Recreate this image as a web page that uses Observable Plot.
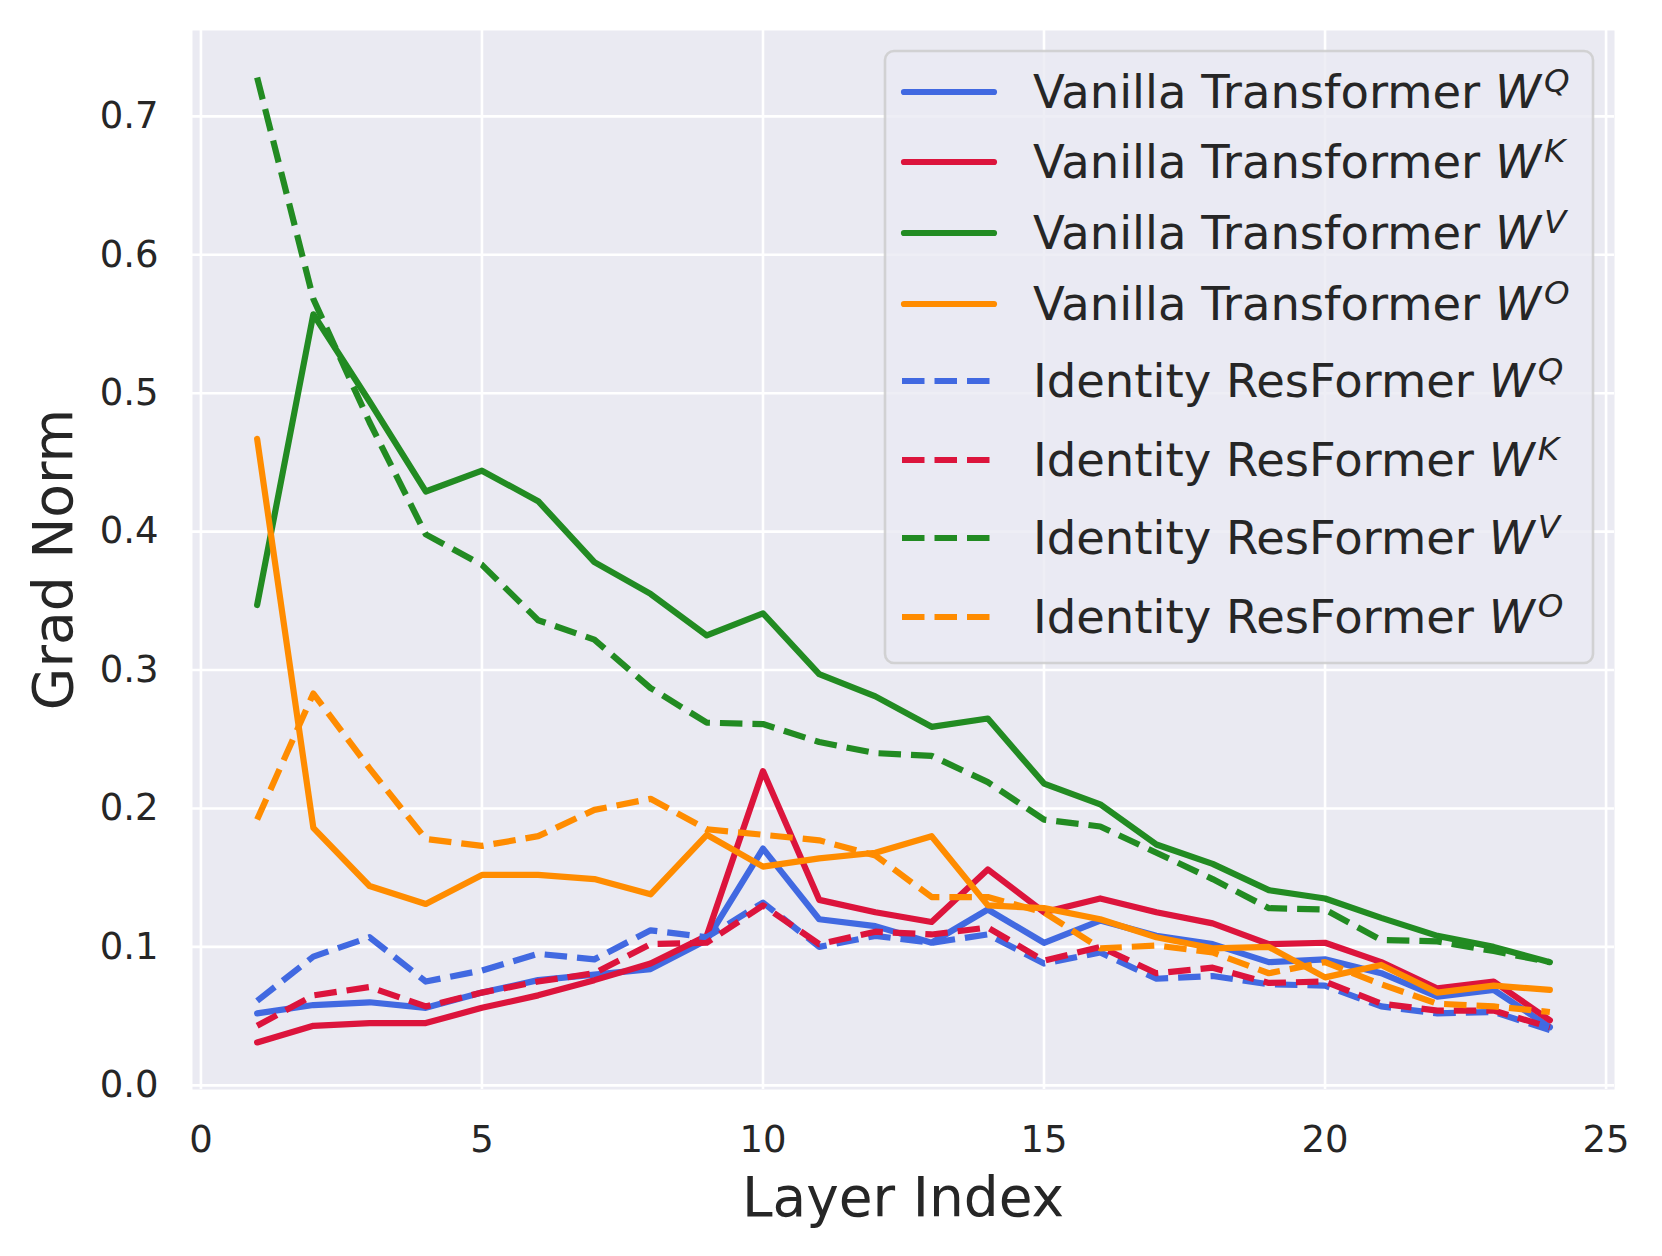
<!DOCTYPE html>
<html>
<head>
<meta charset="utf-8">
<script src="https://cdn.jsdelivr.net/npm/d3@7"></script>
<script src="https://cdn.jsdelivr.net/npm/@observablehq/plot@0.6"></script>
<style>
  html, body { margin: 0; padding: 0; background: #ffffff; }
  #chart svg { display: block; }
</style>
</head>
<body>
<div id="chart"></div>
<script>
// ---------- data ----------
const layers = [1, 2, 3, 4, 5, 6, 7, 8, 9, 10, 11, 12, 13, 14, 15, 16, 17, 18, 19, 20, 21, 22, 23, 24];

const vanillaQ = [0.052, 0.058, 0.060, 0.056, 0.067, 0.076, 0.080, 0.084, 0.105, 0.171, 0.120, 0.115, 0.103, 0.127, 0.103, 0.119, 0.108, 0.102, 0.089, 0.091, 0.081, 0.064, 0.069, 0.042];
const vanillaK = [0.031, 0.043, 0.045, 0.045, 0.056, 0.065, 0.076, 0.088, 0.108, 0.227, 0.134, 0.125, 0.118, 0.156, 0.125, 0.135, 0.125, 0.117, 0.102, 0.103, 0.089, 0.070, 0.075, 0.047];
const vanillaV = [0.347, 0.557, 0.494, 0.429, 0.444, 0.422, 0.378, 0.355, 0.325, 0.341, 0.297, 0.281, 0.259, 0.265, 0.218, 0.203, 0.174, 0.160, 0.141, 0.135, 0.121, 0.108, 0.100, 0.089];
const vanillaO = [0.467, 0.186, 0.144, 0.131, 0.152, 0.152, 0.149, 0.138, 0.181, 0.158, 0.164, 0.168, 0.180, 0.130, 0.128, 0.120, 0.107, 0.099, 0.100, 0.078, 0.087, 0.067, 0.072, 0.069];

const identityQ = [0.061, 0.093, 0.107, 0.075, 0.083, 0.095, 0.091, 0.112, 0.107, 0.132, 0.100, 0.108, 0.103, 0.109, 0.088, 0.096, 0.077, 0.079, 0.073, 0.072, 0.057, 0.052, 0.053, 0.040];
const identityK = [0.043, 0.065, 0.071, 0.057, 0.067, 0.075, 0.081, 0.102, 0.103, 0.130, 0.102, 0.111, 0.109, 0.114, 0.090, 0.100, 0.081, 0.085, 0.074, 0.075, 0.059, 0.054, 0.054, 0.042];
const identityV = [0.728, 0.568, 0.479, 0.398, 0.376, 0.336, 0.322, 0.287, 0.262, 0.261, 0.248, 0.240, 0.238, 0.219, 0.192, 0.187, 0.168, 0.149, 0.128, 0.127, 0.105, 0.104, 0.097, 0.089];
const identityO = [0.192, 0.283, 0.229, 0.178, 0.173, 0.180, 0.199, 0.207, 0.185, 0.181, 0.177, 0.166, 0.136, 0.136, 0.125, 0.099, 0.101, 0.096, 0.081, 0.089, 0.073, 0.059, 0.057, 0.053];

const seriesModels = ["Vanilla Transformer", "Vanilla Transformer", "Vanilla Transformer", "Vanilla Transformer",
                      "Identity ResFormer", "Identity ResFormer", "Identity ResFormer", "Identity ResFormer"];
const seriesMatrices = ["Q", "K", "V", "O", "Q", "K", "V", "O"];
const seriesValues = [vanillaQ, vanillaK, vanillaV, vanillaO, identityQ, identityK, identityV, identityO];
const seriesColors = ["#4169E1", "#DC143C", "#228B22", "#FF8C00", "#4169E1", "#DC143C", "#228B22", "#FF8C00"];
const seriesDashed = [false, false, false, false, true, true, true, true];

const xTicks = [0, 5, 10, 15, 20, 25];
const yTicks = [0.0, 0.1, 0.2, 0.3, 0.4, 0.5, 0.6, 0.7];

const xLabel = "Layer Index";
const yLabel = "Grad Norm";

// ---------- styling ----------
const W = 1662, H = 1256;
const mL = 192, mR = 48, mT = 30, mB = 167;
const LW = 6.2;
const DASH = "22.5,10";
const textColor = "#262626";
const font = "DejaVu Sans";

const lineMarks = seriesValues.map((vals, si) =>
  Plot.line(layers.map((l, i) => ({layer: l, value: vals[i]})), {
    x: "layer",
    y: "value",
    stroke: seriesColors[si],
    strokeWidth: LW,
    strokeDasharray: seriesDashed[si] ? DASH : null,
    strokeLinecap: seriesDashed[si] ? "butt" : "round",
    strokeLinejoin: "round"
  })
);

const chart = Plot.plot({
  width: W,
  height: H,
  marginLeft: mL,
  marginRight: mR,
  marginTop: mT,
  marginBottom: mB,
  style: {fontFamily: font, background: "#ffffff", color: textColor, overflow: "visible"},
  x: {domain: [-0.15, 25.15]},
  y: {domain: [-0.003, 0.762]},
  marks: [
    Plot.frame({fill: "#EAEAF2", stroke: null}),
    Plot.gridX(xTicks, {stroke: "#ffffff", strokeOpacity: 1, strokeWidth: 2.6}),
    Plot.gridY(yTicks, {stroke: "#ffffff", strokeOpacity: 1, strokeWidth: 2.6}),
    Plot.axisX(xTicks, {tickSize: 0, tickPadding: 36, fontSize: 37, label: null, tickFormat: d => String(d), fill: textColor}),
    Plot.axisY(yTicks, {tickSize: 0, tickPadding: 34, fontSize: 37, label: null, tickFormat: d3.format(".1f"), fill: textColor}),
    ...lineMarks
  ]
});

document.getElementById("chart").appendChild(chart);

const svg = d3.select(chart);

// ---------- axis titles ----------
svg.append("text")
  .attr("transform", `translate(72, ${(mT + (H - mB)) / 2}) rotate(-90)`)
  .attr("text-anchor", "middle")
  .attr("font-family", font).attr("font-size", 55).attr("fill", textColor)
  .text(yLabel);

svg.append("text")
  .attr("x", (mL + (W - mR)) / 2).attr("y", 1216)
  .attr("text-anchor", "middle")
  .attr("font-family", font).attr("font-size", 55).attr("fill", textColor)
  .text(xLabel);

// ---------- legend (inside the axes, upper right) ----------
const lg = svg.append("g").attr("class", "legend");
const boxX = 885, boxY = 51, boxW = 708, boxH = 612;
lg.append("rect")
  .attr("x", boxX).attr("y", boxY).attr("width", boxW).attr("height", boxH)
  .attr("rx", 9).attr("ry", 9)
  .attr("fill", "#EAEAF2").attr("fill-opacity", 0.8)
  .attr("stroke", "#cccccc").attr("stroke-opacity", 0.85).attr("stroke-width", 2.6);

const rowY = [92, 162, 233, 304, 381, 460, 538, 617];
seriesModels.forEach((m, i) => {
  const y = rowY[i];
  lg.append("line")
    .attr("x1", seriesDashed[i] ? 902 : 904).attr("x2", seriesDashed[i] ? 999 : 994)
    .attr("y1", y).attr("y2", y)
    .attr("stroke", seriesColors[i]).attr("stroke-width", LW)
    .attr("stroke-dasharray", seriesDashed[i] ? DASH : null)
    .attr("stroke-linecap", seriesDashed[i] ? "butt" : "round");
  const t = lg.append("text")
    .attr("x", 1033).attr("y", y + 16)
    .attr("text-anchor", "start")
    .attr("font-family", font).attr("font-size", 46.5).attr("fill", textColor);
  t.append("tspan").text(m + " ");
  t.append("tspan").attr("font-style", "italic").text("W");
  t.append("tspan").attr("font-style", "italic").attr("font-size", 32.5).attr("dy", -16).attr("dx", 3).text(seriesMatrices[i]);
});
</script>
</body>
</html>
